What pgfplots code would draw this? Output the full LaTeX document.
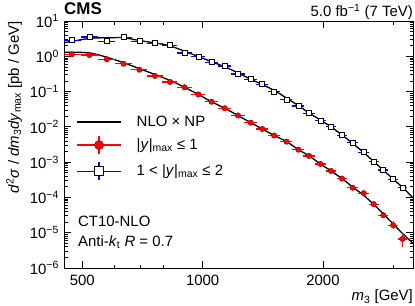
\documentclass[border=0pt]{standalone}
\usepackage{fontspec}
\setmainfont{Liberation Sans}
\usepackage{pgfplots}
\pgfplotsset{compat=1.18}
\usepackage{pgfplotstable}

\pgfplotstableread{
x y ex eyp eym
471 1.14 24 0.03 0.03
521 1.09 26 0.03 0.03
576 0.822 29 0.03 0.03
634 0.616 30 0.03 0.03
695 0.417 32 0.03 0.03
760 0.277 34 0.03 0.03
829 0.187 36 0.03 0.03
901 0.132 37 0.03 0.03
976 0.0828 39 0.03 0.03
1053 0.0514 40 0.03 0.03
1136 0.0337 44 0.03 0.03
1226 0.0210 47 0.03 0.03
1319 0.01315 47 0.03 0.03
1410 0.0087 49 0.03 0.03
1510 0.0057 52 0.03 0.03
1622 0.00381 56 0.03 0.03
1737 0.00226 59 0.03 0.03
1846 0.0015 60 0.03 0.03
1971 0.00089 62 0.04 0.04
2095 0.000564 65 0.04 0.04
2232 0.000341 69 0.05 0.05
2373 0.000188 73 0.06 0.06
2530 0.000132 78 0.08 0.08
2680 6.46e-5 77 0.15 0.13
2832 3.13e-5 81 0.22 0.18
2996 1.63e-5 86 0.30 0.23
3162 6.67e-6 88 0.50 0.42
}\reddata

\pgfplotstableread{
x y ex eyp eym
471 2.84 24 0.03 0.03
521 3.52 26 0.03 0.03
576 2.66 29 0.03 0.03
634 3.45 30 0.03 0.03
695 2.66 32 0.03 0.03
760 2.33 34 0.03 0.03
829 2.06 36 0.03 0.03
901 1.24 37 0.03 0.03
976 0.975 39 0.03 0.03
1053 0.676 40 0.03 0.03
1136 0.531 44 0.03 0.03
1226 0.315 47 0.03 0.03
1319 0.223 47 0.03 0.03
1410 0.161 49 0.03 0.03
1510 0.0994 52 0.03 0.03
1622 0.0597 56 0.03 0.03
1737 0.0391 59 0.03 0.03
1846 0.0243 60 0.03 0.03
1971 0.0150 62 0.03 0.03
2095 0.01014 65 0.03 0.03
2232 0.00578 69 0.04 0.04
2373 0.00357 73 0.04 0.04
2530 0.00191 78 0.05 0.05
2680 0.00103 77 0.06 0.06
2832 0.000601 81 0.08 0.08
2996 0.000328 86 0.10 0.10
3162 0.000192 88 0.13 0.12
}\bluedata

\pgfplotstableread{
x y
451 1.298
494 1.298
534 1.185
576 0.937
634 0.659
698 0.4366
769 0.2895
846 0.187
901 0.1323
976 0.0827
1053 0.0514
1136 0.0336
1226 0.02104
1319 0.01315
1410 0.00872
1510 0.00571
1622 0.00381
1737 0.00226
1846 0.0015
1971 0.000889
2095 0.000563
2232 0.000341
2373 0.000198
2530 0.000114
2680 6.33e-5
2832 3.41e-5
2996 1.776e-5
3162 9.55e-6
3360 4.98e-6
}\redtheory

\pgfplotstableread{
x y
451 2.43
524 3.23
585 3.34
634 3.36
698 2.77
769 2.34
830 1.96
899 1.41
975 0.987
1057 0.690
1139 0.498
1227 0.336
1315 0.2275
1418 0.1538
1519 0.1040
1627 0.0638
1734 0.0404
1847 0.02476
1979 0.01518
2096 0.00994
2233 0.00589
2366 0.00350
2520 0.001945
2670 0.001081
2828 0.000601
2995 0.000334
3173 0.000186
3360 9.68e-5
}\bluetheory

\begin{document}
\fontsize{15}{18}\selectfont
\begin{tikzpicture}
\path[use as bounding box] (0,0) rectangle (415bp,306bp);
\begin{axis}[
  name=ax, at={(64bp,38bp)}, anchor=south west,
  scale only axis, width=349bp, height=247bp,
  xmode=log, ymode=log,
  xmin=450, xmax=3360, ymin=1e-6, ymax=10,
  xtick={500,1000,2000}, xticklabels={500,1000,2000},
  minor xtick={600,700,800,3000},
  ytick={1e-6,1e-5,1e-4,1e-3,1e-2,1e-1,1,10},
  yticklabels={10\textsuperscript{−6},10\textsuperscript{−5},10\textsuperscript{−4},10\textsuperscript{−3},10\textsuperscript{−2},10\textsuperscript{−1},10\textsuperscript{0},10\textsuperscript{1}},
  minor ytick={2e-6,3e-6,4e-6,5e-6,6e-6,7e-6,8e-6,9e-6,
               2e-5,3e-5,4e-5,5e-5,6e-5,7e-5,8e-5,9e-5,
               2e-4,3e-4,4e-4,5e-4,6e-4,7e-4,8e-4,9e-4,
               2e-3,3e-3,4e-3,5e-3,6e-3,7e-3,8e-3,9e-3,
               0.02,0.03,0.04,0.05,0.06,0.07,0.08,0.09,
               0.2,0.3,0.4,0.5,0.6,0.7,0.8,0.9,
               2,3,4,5,6,7,8,9},
  tick align=inside,
  major tick length=7bp, minor tick length=3.5bp,
  every tick/.style={black, line width=0.8bp},
  axis line style={line width=0.9bp},
  xticklabel style={yshift=-2bp},
  xlabel={\textit{m}\textsubscript{3} [GeV]},
  xlabel style={at={(axis description cs:1,-0.117)}, anchor=east, inner sep=0pt},
  ylabel={\textit{d}\textsuperscript{2}\textit{σ} / \textit{dm}\textsubscript{3}\textit{dy}\textsubscript{max} [pb / GeV]},
  ylabel style={at={(axis description cs:-0.143,1)}, anchor=east, inner sep=0pt},
  legend style={at={(axis description cs:0.035,0.617)}, anchor=north west,
    draw=none, fill=none, inner sep=0pt, row sep=7bp,
    nodes={inner sep=0pt, anchor=west},
    /tikz/every odd column/.append style={column sep=15bp}},
  legend cell align=left,
]
\addplot[black, line width=1.3bp, smooth, no marks,
  legend image code/.code={\draw[black, line width=1.3bp] (0bp,0bp) -- (44bp,0bp);}]
  table[x=x, y=y] {\redtheory};
\addlegendentry{NLO × NP}
\addplot[black, line width=1.3bp, smooth, no marks, forget plot] table[x=x, y=y] {\bluetheory};

\addplot[red, only marks, mark=*, mark size=2.7bp,
  mark options={fill=red, draw=red!60!black, line width=0.5bp},
  legend image code/.code={
    \draw[red, line width=1.2bp] (0bp,0bp) -- (44bp,0bp);
    \draw[red, line width=1.2bp] (22bp,-9bp) -- (22bp,9bp);
    \draw[fill=red, draw=red!60!black, line width=0.5bp] (22bp,0bp) circle (4.6bp);},
  error bars/.cd, x dir=both, x explicit, y dir=both, y explicit relative,
  error bar style={line width=1.2bp, red}, error mark=none]
  table[x=x, y=y, x error=ex, y error plus=eyp, y error minus=eym] {\reddata};
\addlegendentry{|\textit{y}|\textsubscript{max} ≤ 1}

\addplot[blue, only marks, mark=square*, mark size=2.5bp,
  mark options={fill=white, draw=black, line width=0.7bp},
  legend image code/.code={
    \draw[blue, line width=1.2bp] (0bp,0bp) -- (44bp,0bp);
    \draw[blue, line width=1.2bp] (22bp,-9bp) -- (22bp,9bp);
    \draw[fill=white, draw=black, line width=0.7bp] (17.5bp,-4.5bp) rectangle (26.5bp,4.5bp);},
  error bars/.cd, x dir=both, x explicit, y dir=both, y explicit relative,
  error bar style={line width=1.2bp, blue}, error mark=none]
  table[x=x, y=y, x error=ex, y error plus=eyp, y error minus=eym] {\bluedata};
\addlegendentry{1 < |\textit{y}|\textsubscript{max} ≤ 2}

\node[anchor=base west, inner sep=0pt] at (axis description cs:0.04,0.17) {CT10-NLO};
\node[anchor=base west, inner sep=0pt] at (axis description cs:0.04,0.086) {Anti-\textit{k}\textsubscript{t} \textit{R} = 0.7};
\end{axis}
\node[anchor=base west, inner sep=0pt, font=\bfseries\fontsize{17}{17}\selectfont] at ([yshift=6bp]ax.north west) {CMS};
\node[anchor=base east, inner sep=0pt] at ([yshift=4.5bp]ax.north east) {5.0 fb\textsuperscript{−1} (7 TeV)};
\end{tikzpicture}
\end{document}
